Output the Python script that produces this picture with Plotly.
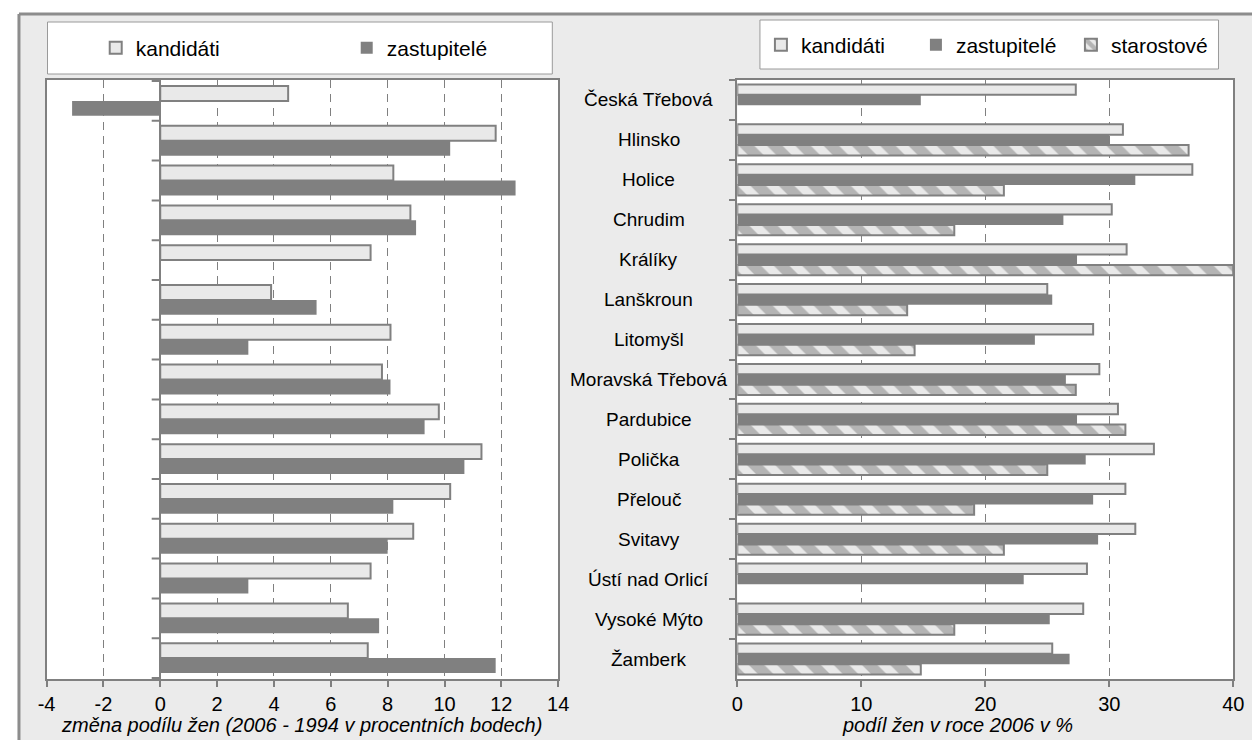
import plotly.graph_objects as go

# the page body has an 8px margin, so the figure is drawn 8px smaller and all
# positions below are given in window pixels and shifted by it
W, H = 1252, 732
OFF = 8

mesta = ["Česká Třebová", "Hlinsko", "Holice", "Chrudim", "Králíky", "Lanškroun",
         "Litomyšl", "Moravská Třebová", "Pardubice", "Polička", "Přelouč", "Svitavy",
         "Ústí nad Orlicí", "Vysoké Mýto", "Žamberk"]

# change of women's share 2006 - 1994, percentage points
zmena_kandidati = [4.5, 11.8, 8.2, 8.8, 7.4, 3.9, 8.1, 7.8, 9.8, 11.3, 10.2, 8.9, 7.4, 6.6, 7.3]
zmena_zastupitele = [-3.1, 10.2, 12.5, 9.0, 0, 5.5, 3.1, 8.1, 9.3, 10.7, 8.2, 8.0, 3.1, 7.7, 11.8]

# share of women in 2006, %
podil_kandidati = [27.3, 31.1, 36.7, 30.2, 31.4, 25.0, 28.7, 29.2, 30.7, 33.6, 31.3, 32.1, 28.2, 27.9, 25.4]
podil_zastupitele = [14.8, 30.0, 32.1, 26.3, 27.4, 25.4, 24.0, 26.5, 27.4, 28.1, 28.7, 29.1, 23.1, 25.2, 26.8]
podil_starostove = [None, 36.4, 21.5, 17.5, 40.0, 13.7, 14.3, 27.3, 31.3, 25.0, 19.1, 21.5, None, 17.5, 14.8]

levy_ticks = [-4, -2, 0, 2, 4, 6, 8, 10, 12, 14]
pravy_ticks = [0, 10, 20, 30, 40]

SVETLA = "#e9e9e9"
TMAVA = "#808080"
FONT = "Liberation Sans, Arial, sans-serif"


def px(x):
    return (x - OFF) / W


def py(y):
    return 1 - (y - OFF) / H


fig = go.Figure()

# left chart: change
fig.add_trace(go.Bar(y=mesta, x=zmena_kandidati, orientation="h", name="kandidáti",
                     marker=dict(color=SVETLA, line=dict(color=TMAVA, width=2)),
                     xaxis="x", yaxis="y", legend="legend"))
fig.add_trace(go.Bar(y=mesta, x=zmena_zastupitele, orientation="h", name="zastupitelé",
                     marker=dict(color=TMAVA, line=dict(color=TMAVA, width=0)),
                     xaxis="x", yaxis="y", legend="legend"))

# right chart: share in 2006 (three bars per town, a bit tighter than left)
sirka = 0.26
fig.add_trace(go.Bar(y=mesta, x=podil_kandidati, orientation="h", name="kandidáti",
                     width=sirka, offset=-1.5 * sirka,
                     marker=dict(color=SVETLA, line=dict(color=TMAVA, width=2)),
                     xaxis="x2", yaxis="y2", legend="legend2"))
fig.add_trace(go.Bar(y=mesta, x=podil_zastupitele, orientation="h", name="zastupitelé",
                     width=sirka, offset=-0.5 * sirka,
                     marker=dict(color=TMAVA, line=dict(color=TMAVA, width=0)),
                     xaxis="x2", yaxis="y2", legend="legend2"))
fig.add_trace(go.Bar(y=mesta, x=podil_starostove, orientation="h", name="starostové",
                     width=sirka, offset=0.5 * sirka,
                     marker=dict(color=SVETLA, line=dict(color=TMAVA, width=2),
                                 pattern=dict(shape="\\", fgcolor=TMAVA, bgcolor=SVETLA,
                                              size=20, solidity=0.55)),
                     xaxis="x2", yaxis="y2", legend="legend2"))

ydom = [py(679), py(80)]
osa_x = dict(showline=True, mirror=True, linecolor=TMAVA, linewidth=2,
             ticks="outside", ticklen=6, tickcolor=TMAVA, tickwidth=1.5,
             showgrid=True, gridcolor=TMAVA, gridwidth=1, griddash="8px,6px",
             tickfont=dict(size=20, color="black"), fixedrange=True)
osa_y = dict(showline=True, mirror=True, linecolor=TMAVA, linewidth=2,
             autorange="reversed", showticklabels=False, showgrid=False,
             categoryorder="array", categoryarray=mesta)

fig.update_layout(
    width=W, height=H,
    margin=dict(l=0, r=0, t=0, b=0),
    paper_bgcolor="#ebebeb", plot_bgcolor="white",
    font=dict(family=FONT, size=20, color="black"),
    barmode="group",
    bargap=0.25,
    xaxis=dict(osa_x, domain=[px(38), px(558)], range=[-4, 14], tickvals=levy_ticks,
               ticktext=[str(t) for t in levy_ticks],
               zeroline=True, zerolinecolor=TMAVA, zerolinewidth=2, anchor="y"),
    yaxis=dict(osa_y, domain=ydom, anchor="x", ticks=""),
    xaxis2=dict(osa_x, domain=[px(740), px(1244)], range=[0, 40], tickvals=pravy_ticks,
                ticktext=[str(t) for t in pravy_ticks], zeroline=False, anchor="y2"),
    yaxis2=dict(osa_y, domain=ydom, anchor="x2", ticks="outside", tickson="boundaries",
                ticklen=6, tickcolor=TMAVA, tickwidth=1.5),
    legend=dict(orientation="h", x=px(88), y=py(48), xanchor="left", yanchor="middle",
                bgcolor="rgba(0,0,0,0)", borderwidth=0, font=dict(size=21),
                entrywidth=206, entrywidthmode="pixels", traceorder="normal"),
    legend2=dict(orientation="h", x=px(764), y=py(45), xanchor="left", yanchor="middle",
                 bgcolor="rgba(0,0,0,0)", borderwidth=0, font=dict(size=21),
                 entrywidth=110, entrywidthmode="pixels", traceorder="normal"),
)

shapes = [
    # white strip and frame of the whole picture
    dict(type="rect", xref="paper", yref="paper", x0=-0.01, x1=1.01, y0=py(14), y1=1.01,
         fillcolor="white", line_width=0, layer="below"),
    dict(type="rect", xref="paper", yref="paper", x0=-0.01, x1=px(10), y0=-0.01, y1=1.01,
         fillcolor="white", line_width=0, layer="below"),
    dict(type="line", xref="paper", yref="paper", x0=px(10), x1=1.01, y0=py(14), y1=py(14),
         line=dict(color="#8c8c8c", width=3), layer="below"),
    dict(type="line", xref="paper", yref="paper", x0=px(10), x1=px(10), y0=-0.01, y1=py(14),
         line=dict(color="#8c8c8c", width=3), layer="below"),
    # legend boxes
    dict(type="rect", xref="paper", yref="paper", x0=px(39), x1=px(552), y0=py(74), y1=py(22),
         fillcolor="white", line=dict(color="#9a9a9a", width=1), layer="below"),
    dict(type="rect", xref="paper", yref="paper", x0=px(763), x1=px(1229), y0=py(69), y1=py(20),
         fillcolor="white", line=dict(color="#9a9a9a", width=1), layer="below"),
]
# category tick marks on the zero line of the left chart
for i in range(len(mesta) + 1):
    shapes.append(dict(type="line", xref="x", yref="y", x0=-0.3, x1=0, y0=i - 0.5, y1=i - 0.5,
                       line=dict(color=TMAVA, width=2)))
fig.update_layout(shapes=shapes)

# category names between the two charts
for m in mesta:
    fig.add_annotation(x=px(650), xref="paper", y=m, yref="y2", text=m, showarrow=False,
                       xanchor="center", yanchor="middle", font=dict(size=19))

# axis titles
fig.add_annotation(x=px(297), xref="paper", y=py(725), yref="paper",
                   text="<i>změna podílu žen (2006 - 1994 v procentních bodech)</i>",
                   showarrow=False, xanchor="center", yanchor="middle", font=dict(size=20))
fig.add_annotation(x=px(964), xref="paper", y=py(725), yref="paper",
                   text="<i>podíl žen v roce 2006 v %</i>",
                   showarrow=False, xanchor="center", yanchor="middle", font=dict(size=20))

fig.write_html("out.html")
